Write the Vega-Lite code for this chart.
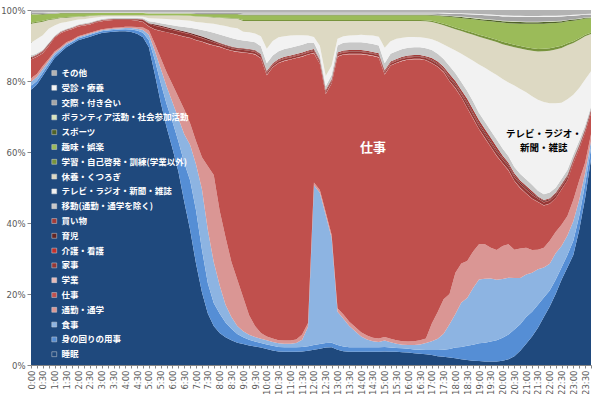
{
  "$schema": "https://vega.github.io/schema/vega-lite/v6.json",
  "autosize": {"type": "none"},
  "padding": {"left": 31, "top": 10, "right": 9, "bottom": 29},
  "width": 560,
  "height": 355,
  "background": "white",
  "config": {"view": {"stroke": null}, "font": "Noto Sans CJK JP"},
  "datasets": {
    "cats": [
      {"key": "s", "name": "睡眠", "ord": 1},
      {"key": "p", "name": "身の回りの用事", "ord": 2},
      {"key": "e", "name": "食事", "ord": 3},
      {"key": "c", "name": "通勤・通学", "ord": 4},
      {"key": "w", "name": "仕事", "ord": 5},
      {"key": "g", "name": "学業", "ord": 6},
      {"key": "h", "name": "家事", "ord": 7},
      {"key": "k", "name": "介護・看護", "ord": 8},
      {"key": "i", "name": "育児", "ord": 9},
      {"key": "b", "name": "買い物", "ord": 10},
      {"key": "m", "name": "移動(通勤・通学を除く)", "ord": 11},
      {"key": "t", "name": "テレビ・ラジオ・新聞・雑誌", "ord": 12},
      {"key": "r", "name": "休養・くつろぎ", "ord": 13},
      {"key": "l", "name": "学習・自己啓発・訓練(学業以外)", "ord": 14},
      {"key": "f", "name": "趣味・娯楽", "ord": 15},
      {"key": "x", "name": "スポーツ", "ord": 16},
      {"key": "v", "name": "ボランティア活動・社会参加活動", "ord": 17},
      {"key": "a", "name": "交際・付き合い", "ord": 18},
      {"key": "j", "name": "受診・療養", "ord": 19},
      {"key": "o", "name": "その他", "ord": 20}
    ],
    "rows": [
      {"time":"00:00","s":77.5,"p":1.1,"e":1.2,"c":1,"w":5.25,"g":0.05,"h":0.3,"k":0.1,"i":0.1,"b":0.1,"m":0.4,"t":3.7,"r":5.3,"l":0.3,"f":2.3,"x":0.1,"v":0.1,"a":0.3,"j":0.1,"o":0.7},
      {"time":"00:15","s":79,"p":1,"e":1.1,"c":0.9,"w":4.85,"g":0.05,"h":0.3,"k":0.1,"i":0.1,"b":0.1,"m":0.35,"t":3.95,"r":4.6,"l":0.3,"f":2,"x":0.1,"v":0.1,"a":0.3,"j":0.1,"o":0.7},
      {"time":"00:30","s":81.5,"p":0.9,"e":1,"c":0.8,"w":3.65,"g":0.05,"h":0.3,"k":0.1,"i":0.1,"b":0.1,"m":0.3,"t":4.1,"r":3.8,"l":0.25,"f":1.8,"x":0.1,"v":0.05,"a":0.3,"j":0.1,"o":0.7},
      {"time":"00:45","s":84,"p":0.8,"e":0.8,"c":0.6,"w":3.65,"g":0.05,"h":0.3,"k":0.1,"i":0.1,"b":0.1,"m":0.25,"t":3.95,"r":2.5,"l":0.2,"f":1.5,"x":0.05,"v":0.05,"a":0.25,"j":0.1,"o":0.65},
      {"time":"01:00","s":86.5,"p":0.7,"e":0.6,"c":0.5,"w":3.85,"g":0.05,"h":0.15,"k":0.05,"i":0.05,"b":0.05,"m":0.25,"t":2.85,"r":1.8,"l":0.2,"f":1.3,"x":0.05,"v":0.05,"a":0.25,"j":0.1,"o":0.65},
      {"time":"01:15","s":88,"p":0.6,"e":0.5,"c":0.4,"w":3.95,"g":0.05,"h":0.15,"k":0.05,"i":0.05,"b":0.05,"m":0.25,"t":2.3,"r":1.4,"l":0.15,"f":1.2,"x":0.05,"v":0.05,"a":0.2,"j":0.05,"o":0.55},
      {"time":"01:30","s":89.5,"p":0.6,"e":0.4,"c":0.4,"w":3.25,"g":0.05,"h":0.15,"k":0.05,"i":0.05,"b":0.05,"m":0.25,"t":1.9,"r":1.2,"l":0.15,"f":1.1,"x":0.05,"v":0.05,"a":0.2,"j":0.05,"o":0.55},
      {"time":"01:45","s":90.5,"p":0.5,"e":0.3,"c":0.3,"w":3.05,"g":0.05,"h":0.15,"k":0.05,"i":0.05,"b":0.05,"m":0.25,"t":1.7,"r":1,"l":0.15,"f":1,"x":0.05,"v":0.05,"a":0.2,"j":0.05,"o":0.55},
      {"time":"02:00","s":91.5,"p":0.5,"e":0.3,"c":0.3,"w":2.75,"g":0.05,"h":0.15,"k":0.05,"i":0.05,"b":0.05,"m":0.25,"t":1.35,"r":0.8,"l":0.1,"f":0.9,"x":0.05,"v":0.05,"a":0.2,"j":0.05,"o":0.55},
      {"time":"02:15","s":92,"p":0.5,"e":0.3,"c":0.3,"w":2.55,"g":0.05,"h":0.15,"k":0.05,"i":0.05,"b":0.05,"m":0.25,"t":1.15,"r":0.8,"l":0.1,"f":0.8,"x":0.05,"v":0.05,"a":0.2,"j":0.05,"o":0.55},
      {"time":"02:30","s":92.5,"p":0.5,"e":0.3,"c":0.3,"w":2.35,"g":0.05,"h":0.15,"k":0.05,"i":0.05,"b":0.05,"m":0.25,"t":1.15,"r":0.6,"l":0.1,"f":0.7,"x":0.05,"v":0.05,"a":0.2,"j":0.05,"o":0.55},
      {"time":"02:45","s":93,"p":0.5,"e":0.3,"c":0.3,"w":2.35,"g":0.05,"h":0.15,"k":0.05,"i":0.05,"b":0.05,"m":0.25,"t":0.85,"r":0.5,"l":0.08,"f":0.65,"x":0.04,"v":0.03,"a":0.2,"j":0.05,"o":0.55},
      {"time":"03:00","s":93.5,"p":0.5,"e":0.3,"c":0.3,"w":2.25,"g":0.05,"h":0.15,"k":0.05,"i":0.05,"b":0.05,"m":0.25,"t":0.65,"r":0.45,"l":0.05,"f":0.55,"x":0.03,"v":0.02,"a":0.2,"j":0.05,"o":0.55},
      {"time":"03:15","s":93.7,"p":0.5,"e":0.3,"c":0.3,"w":2.25,"g":0.05,"h":0.15,"k":0.05,"i":0.05,"b":0.05,"m":0.25,"t":0.5,"r":0.4,"l":0.05,"f":0.55,"x":0.03,"v":0.02,"a":0.2,"j":0.05,"o":0.55},
      {"time":"03:30","s":93.9,"p":0.5,"e":0.3,"c":0.3,"w":2.15,"g":0.05,"h":0.15,"k":0.05,"i":0.05,"b":0.05,"m":0.25,"t":0.4,"r":0.4,"l":0.05,"f":0.55,"x":0.03,"v":0.02,"a":0.2,"j":0.05,"o":0.55},
      {"time":"03:45","s":94,"p":0.5,"e":0.3,"c":0.3,"w":2.05,"g":0.05,"h":0.15,"k":0.05,"i":0.05,"b":0.05,"m":0.25,"t":0.4,"r":0.4,"l":0.05,"f":0.55,"x":0.03,"v":0.02,"a":0.2,"j":0.05,"o":0.55},
      {"time":"04:00","s":94,"p":0.6,"e":0.35,"c":0.3,"w":1.9,"g":0.05,"h":0.15,"k":0.05,"i":0.05,"b":0.05,"m":0.25,"t":0.4,"r":0.4,"l":0.05,"f":0.55,"x":0.03,"v":0.02,"a":0.2,"j":0.05,"o":0.55},
      {"time":"04:15","s":93.8,"p":0.7,"e":0.4,"c":0.35,"w":1.9,"g":0.05,"h":0.15,"k":0.05,"i":0.05,"b":0.05,"m":0.25,"t":0.4,"r":0.4,"l":0.05,"f":0.55,"x":0.03,"v":0.02,"a":0.2,"j":0.05,"o":0.55},
      {"time":"04:30","s":93.3,"p":0.9,"e":0.5,"c":0.5,"w":1.8,"g":0.05,"h":0.3,"k":0.05,"i":0.05,"b":0.05,"m":0.25,"t":0.4,"r":0.4,"l":0.05,"f":0.55,"x":0.03,"v":0.02,"a":0.2,"j":0.05,"o":0.55},
      {"time":"04:45","s":92.3,"p":1.3,"e":0.8,"c":0.7,"w":1.55,"g":0.05,"h":0.5,"k":0.05,"i":0.1,"b":0.05,"m":0.3,"t":0.4,"r":0.45,"l":0.05,"f":0.55,"x":0.03,"v":0.02,"a":0.2,"j":0.05,"o":0.55},
      {"time":"05:00","s":89.5,"p":2,"e":1.5,"c":1.2,"w":1.15,"g":0.05,"h":0.7,"k":0.05,"i":0.1,"b":0.05,"m":0.5,"t":0.85,"r":0.8,"l":0.05,"f":0.5,"x":0.03,"v":0.02,"a":0.25,"j":0.1,"o":0.6},
      {"time":"05:15","s":82,"p":4,"e":2.5,"c":2,"w":4,"g":0.05,"h":1,"k":0.1,"i":0.3,"b":0.05,"m":0.6,"t":1,"r":0.85,"l":0.05,"f":0.5,"x":0.03,"v":0.02,"a":0.25,"j":0.1,"o":0.6},
      {"time":"05:30","s":74,"p":5.5,"e":4,"c":3,"w":7.6,"g":0.05,"h":1,"k":0.1,"i":0.3,"b":0.05,"m":0.7,"t":1.25,"r":0.9,"l":0.05,"f":0.5,"x":0.03,"v":0.02,"a":0.25,"j":0.1,"o":0.6},
      {"time":"05:45","s":67,"p":6.5,"e":5,"c":4,"w":11.2,"g":0.05,"h":1,"k":0.1,"i":0.3,"b":0.05,"m":0.8,"t":1.45,"r":1,"l":0.05,"f":0.5,"x":0.03,"v":0.02,"a":0.25,"j":0.1,"o":0.6},
      {"time":"06:00","s":61,"p":7.5,"e":5.5,"c":5,"w":14.3,"g":0.05,"h":1,"k":0.1,"i":0.3,"b":0.05,"m":0.9,"t":1.65,"r":1.1,"l":0.05,"f":0.5,"x":0.03,"v":0.02,"a":0.25,"j":0.1,"o":0.6},
      {"time":"06:15","s":54.5,"p":8.5,"e":6.5,"c":6,"w":17.4,"g":0.05,"h":1,"k":0.1,"i":0.3,"b":0.05,"m":1,"t":1.85,"r":1.2,"l":0.05,"f":0.5,"x":0.03,"v":0.02,"a":0.25,"j":0.1,"o":0.6},
      {"time":"06:30","s":46,"p":11,"e":8,"c":7,"w":20.5,"g":0.05,"h":1,"k":0.1,"i":0.3,"b":0.05,"m":1.2,"t":1.9,"r":1.3,"l":0.05,"f":0.54,"x":0.03,"v":0.03,"a":0.25,"j":0.1,"o":0.6},
      {"time":"06:45","s":38,"p":14,"e":10,"c":6,"w":24.1,"g":0.05,"h":1,"k":0.1,"i":0.3,"b":0.05,"m":1.4,"t":1.95,"r":1.4,"l":0.06,"f":0.58,"x":0.03,"v":0.03,"a":0.25,"j":0.1,"o":0.6},
      {"time":"07:00","s":28.5,"p":15,"e":13,"c":6.5,"w":28.45,"g":0.1,"h":1,"k":0.1,"i":0.4,"b":0.05,"m":1.6,"t":1.95,"r":1.5,"l":0.07,"f":0.62,"x":0.03,"v":0.03,"a":0.3,"j":0.1,"o":0.7},
      {"time":"07:15","s":20.5,"p":12,"e":17,"c":9,"w":32.55,"g":0.1,"h":0.9,"k":0.1,"i":0.4,"b":0.05,"m":1.8,"t":2.1,"r":1.6,"l":0.08,"f":0.65,"x":0.04,"v":0.03,"a":0.3,"j":0.1,"o":0.7},
      {"time":"07:30","s":14.5,"p":8.5,"e":15,"c":18,"w":34.45,"g":0.1,"h":0.9,"k":0.1,"i":0.4,"b":0.05,"m":2,"t":2.3,"r":1.7,"l":0.09,"f":0.73,"x":0.04,"v":0.04,"a":0.3,"j":0.1,"o":0.7},
      {"time":"07:45","s":11,"p":6.5,"e":11.5,"c":24.5,"w":36.5,"g":0.1,"h":0.8,"k":0.1,"i":0.3,"b":0.1,"m":2.2,"t":2.5,"r":1.8,"l":0.1,"f":0.8,"x":0.05,"v":0.05,"a":0.3,"j":0.1,"o":0.7},
      {"time":"08:00","s":9,"p":5.5,"e":8,"c":21,"w":46.1,"g":0.1,"h":0.6,"k":0.1,"i":0.2,"b":0.2,"m":2.3,"t":2.7,"r":2,"l":0.11,"f":0.89,"x":0.05,"v":0.05,"a":0.3,"j":0.1,"o":0.7},
      {"time":"08:15","s":7.8,"p":4.2,"e":5,"c":19,"w":53,"g":0.1,"h":0.6,"k":0.1,"i":0.2,"b":0.2,"m":2.4,"t":2.9,"r":2.2,"l":0.12,"f":0.98,"x":0.05,"v":0.05,"a":0.3,"j":0.1,"o":0.7},
      {"time":"08:30","s":7,"p":3.2,"e":3.3,"c":15.5,"w":59.5,"g":0.1,"h":0.6,"k":0.1,"i":0.2,"b":0.2,"m":2.4,"t":3,"r":2.5,"l":0.13,"f":1.07,"x":0.05,"v":0.05,"a":0.3,"j":0.1,"o":0.7},
      {"time":"08:45","s":6.3,"p":2.4,"e":2.3,"c":13,"w":64.2,"g":0.1,"h":0.6,"k":0.1,"i":0.2,"b":0.2,"m":2.3,"t":3.15,"r":2.7,"l":0.14,"f":1.1,"x":0.06,"v":0.05,"a":0.3,"j":0.1,"o":0.7},
      {"time":"09:00","s":5.9,"p":1.9,"e":1.7,"c":9.5,"w":69,"g":0.1,"h":0.6,"k":0.1,"i":0.2,"b":0.2,"m":2.2,"t":2.5,"r":3,"l":0.3,"f":1.3,"x":0.1,"v":0.1,"a":0.35,"j":0.15,"o":0.8},
      {"time":"09:15","s":5.5,"p":1.6,"e":1.4,"c":5.5,"w":73.8,"g":0.1,"h":0.6,"k":0.1,"i":0.2,"b":0.2,"m":2.2,"t":2.5,"r":3.2,"l":0.3,"f":1.3,"x":0.1,"v":0.1,"a":0.35,"j":0.15,"o":0.8},
      {"time":"09:30","s":5.2,"p":1.4,"e":1.3,"c":3.1,"w":76.5,"g":0.1,"h":0.6,"k":0.1,"i":0.2,"b":0.2,"m":2.2,"t":2.5,"r":3.5,"l":0.3,"f":1.3,"x":0.1,"v":0.1,"a":0.35,"j":0.15,"o":0.8},
      {"time":"09:45","s":4.9,"p":1.3,"e":1.2,"c":1.6,"w":77.4,"g":0.1,"h":0.6,"k":0.1,"i":0.2,"b":0.2,"m":2.2,"t":2.8,"r":4.3,"l":0.3,"f":1.3,"x":0.1,"v":0.1,"a":0.35,"j":0.15,"o":0.8},
      {"time":"10:00","s":4.5,"p":1.3,"e":1.2,"c":1,"w":73.65,"g":0.1,"h":0.5,"k":0.1,"i":0.15,"b":0.3,"m":2.2,"t":4.1,"r":7.8,"l":0.3,"f":1.3,"x":0.1,"v":0.1,"a":0.35,"j":0.15,"o":0.8},
      {"time":"10:15","s":4.1,"p":1.3,"e":1.1,"c":1,"w":76.35,"g":0.1,"h":0.5,"k":0.1,"i":0.15,"b":0.3,"m":2.2,"t":4.1,"r":5.6,"l":0.3,"f":1.3,"x":0.1,"v":0.1,"a":0.35,"j":0.15,"o":0.8},
      {"time":"10:30","s":3.8,"p":1.3,"e":1,"c":0.9,"w":78.05,"g":0.1,"h":0.5,"k":0.1,"i":0.15,"b":0.3,"m":2.2,"t":3.9,"r":4.6,"l":0.3,"f":1.3,"x":0.1,"v":0.1,"a":0.35,"j":0.15,"o":0.8},
      {"time":"10:45","s":3.7,"p":1.3,"e":1,"c":0.9,"w":78.75,"g":0.1,"h":0.5,"k":0.1,"i":0.15,"b":0.3,"m":2.2,"t":3.6,"r":4.3,"l":0.3,"f":1.3,"x":0.1,"v":0.1,"a":0.35,"j":0.15,"o":0.8},
      {"time":"11:00","s":3.7,"p":1.3,"e":1,"c":0.9,"w":79.15,"g":0.1,"h":0.5,"k":0.1,"i":0.15,"b":0.3,"m":2.2,"t":3.4,"r":4.1,"l":0.3,"f":1.3,"x":0.1,"v":0.1,"a":0.35,"j":0.15,"o":0.8},
      {"time":"11:15","s":3.7,"p":1.3,"e":1.2,"c":1,"w":79.25,"g":0.1,"h":0.5,"k":0.1,"i":0.15,"b":0.3,"m":2.2,"t":3.1,"r":4,"l":0.3,"f":1.3,"x":0.1,"v":0.1,"a":0.35,"j":0.15,"o":0.8},
      {"time":"11:30","s":3.8,"p":1.3,"e":2,"c":1.5,"w":78.25,"g":0.1,"h":0.5,"k":0.1,"i":0.15,"b":0.3,"m":2.2,"t":2.7,"r":4,"l":0.3,"f":1.3,"x":0.1,"v":0.1,"a":0.35,"j":0.15,"o":0.8},
      {"time":"11:45","s":4,"p":1.3,"e":5.5,"c":1,"w":75.65,"g":0.1,"h":0.5,"k":0.1,"i":0.15,"b":0.3,"m":2.2,"t":2,"r":4.1,"l":0.3,"f":1.3,"x":0.1,"v":0.1,"a":0.35,"j":0.15,"o":0.8},
      {"time":"12:00","s":4.3,"p":1.3,"e":45,"c":0.8,"w":36.45,"g":0.1,"h":0.5,"k":0.1,"i":0.15,"b":0.3,"m":1.8,"t":1.6,"r":4.5,"l":0.3,"f":1.3,"x":0.1,"v":0.1,"a":0.35,"j":0.15,"o":0.8},
      {"time":"12:15","s":4.6,"p":1.3,"e":42.6,"c":0.8,"w":35.55,"g":0.1,"h":0.5,"k":0.1,"i":0.15,"b":0.3,"m":1.3,"t":2.6,"r":7,"l":0.3,"f":1.3,"x":0.1,"v":0.1,"a":0.35,"j":0.15,"o":0.8},
      {"time":"12:30","s":4.9,"p":1.3,"e":36,"c":0.8,"w":33.35,"g":0.1,"h":0.5,"k":0.1,"i":0.15,"b":0.3,"m":1,"t":2.9,"r":15.5,"l":0.3,"f":1.3,"x":0.1,"v":0.1,"a":0.35,"j":0.15,"o":0.8},
      {"time":"12:45","s":5,"p":1.3,"e":29.5,"c":0.8,"w":42.75,"g":0.1,"h":0.5,"k":0.1,"i":0.15,"b":0.3,"m":1.2,"t":2.7,"r":12.5,"l":0.3,"f":1.3,"x":0.1,"v":0.1,"a":0.35,"j":0.15,"o":0.8},
      {"time":"13:00","s":4.3,"p":1.3,"e":9.4,"c":1,"w":70.85,"g":0.1,"h":0.5,"k":0.1,"i":0.15,"b":0.3,"m":2,"t":1.9,"r":5,"l":0.3,"f":1.3,"x":0.1,"v":0.1,"a":0.35,"j":0.15,"o":0.8},
      {"time":"13:15","s":3.9,"p":1.3,"e":7.8,"c":1.2,"w":73.25,"g":0.1,"h":0.5,"k":0.1,"i":0.15,"b":0.3,"m":2.2,"t":1.8,"r":4.3,"l":0.3,"f":1.3,"x":0.1,"v":0.1,"a":0.35,"j":0.15,"o":0.8},
      {"time":"13:30","s":3.7,"p":1.3,"e":6,"c":1.2,"w":75.35,"g":0.1,"h":0.5,"k":0.1,"i":0.15,"b":0.3,"m":2.2,"t":1.9,"r":4.1,"l":0.3,"f":1.3,"x":0.1,"v":0.1,"a":0.35,"j":0.15,"o":0.8},
      {"time":"13:45","s":3.7,"p":1.3,"e":4.5,"c":1.2,"w":76.85,"g":0.1,"h":0.5,"k":0.1,"i":0.15,"b":0.3,"m":2.2,"t":2,"r":4,"l":0.3,"f":1.3,"x":0.1,"v":0.1,"a":0.35,"j":0.15,"o":0.8},
      {"time":"14:00","s":3.7,"p":1.3,"e":3,"c":1.2,"w":78.35,"g":0.1,"h":0.5,"k":0.1,"i":0.15,"b":0.3,"m":2.2,"t":2.1,"r":3.9,"l":0.3,"f":1.3,"x":0.1,"v":0.1,"a":0.35,"j":0.15,"o":0.8},
      {"time":"14:15","s":3.7,"p":1.3,"e":2.2,"c":1.1,"w":79.05,"g":0.1,"h":0.5,"k":0.1,"i":0.15,"b":0.3,"m":2.2,"t":2.2,"r":4,"l":0.3,"f":1.3,"x":0.1,"v":0.1,"a":0.35,"j":0.15,"o":0.8},
      {"time":"14:30","s":3.7,"p":1.3,"e":1.7,"c":1,"w":79.35,"g":0.1,"h":0.5,"k":0.1,"i":0.15,"b":0.3,"m":2.2,"t":2.4,"r":4.1,"l":0.3,"f":1.3,"x":0.1,"v":0.1,"a":0.35,"j":0.15,"o":0.8},
      {"time":"14:45","s":3.7,"p":1.3,"e":1.5,"c":1,"w":79.15,"g":0.1,"h":0.5,"k":0.1,"i":0.15,"b":0.3,"m":2.2,"t":2.5,"r":4.4,"l":0.3,"f":1.3,"x":0.1,"v":0.1,"a":0.35,"j":0.15,"o":0.8},
      {"time":"15:00","s":3.8,"p":1.3,"e":1.8,"c":1,"w":73.95,"g":0.1,"h":0.5,"k":0.1,"i":0.15,"b":0.3,"m":2,"t":4.4,"r":7.5,"l":0.3,"f":1.3,"x":0.1,"v":0.1,"a":0.35,"j":0.15,"o":0.8},
      {"time":"15:15","s":3.7,"p":1.2,"e":1.5,"c":1,"w":76.95,"g":0.1,"h":0.5,"k":0.1,"i":0.15,"b":0.3,"m":2.2,"t":3.5,"r":5.7,"l":0.3,"f":1.3,"x":0.1,"v":0.1,"a":0.35,"j":0.15,"o":0.8},
      {"time":"15:30","s":3.7,"p":1.1,"e":1.2,"c":1,"w":78.05,"g":0.1,"h":0.5,"k":0.1,"i":0.15,"b":0.3,"m":2.2,"t":3.5,"r":5,"l":0.3,"f":1.3,"x":0.1,"v":0.1,"a":0.35,"j":0.15,"o":0.8},
      {"time":"15:45","s":3.6,"p":1.1,"e":1,"c":1,"w":78.95,"g":0.1,"h":0.5,"k":0.1,"i":0.15,"b":0.3,"m":2.2,"t":3.2,"r":4.7,"l":0.3,"f":1.3,"x":0.1,"v":0.1,"a":0.35,"j":0.15,"o":0.8},
      {"time":"16:00","s":3.5,"p":1.1,"e":1,"c":1,"w":79.45,"g":0.1,"h":0.5,"k":0.1,"i":0.15,"b":0.3,"m":2.2,"t":3,"r":4.5,"l":0.3,"f":1.3,"x":0.1,"v":0.1,"a":0.35,"j":0.15,"o":0.8},
      {"time":"16:15","s":3.3,"p":1.1,"e":1.2,"c":1.1,"w":79.45,"g":0.1,"h":0.5,"k":0.1,"i":0.15,"b":0.3,"m":2.2,"t":2.9,"r":4.5,"l":0.3,"f":1.3,"x":0.1,"v":0.1,"a":0.35,"j":0.15,"o":0.8},
      {"time":"16:30","s":3.2,"p":1.1,"e":1.5,"c":1.2,"w":79.15,"g":0.1,"h":0.5,"k":0.1,"i":0.15,"b":0.3,"m":2.2,"t":2.8,"r":4.6,"l":0.3,"f":1.3,"x":0.1,"v":0.1,"a":0.35,"j":0.15,"o":0.8},
      {"time":"16:45","s":3,"p":1.2,"e":2,"c":1.3,"w":78.35,"g":0.1,"h":0.5,"k":0.1,"i":0.15,"b":0.3,"m":2.2,"t":2.9,"r":4.7,"l":0.3,"f":1.4,"x":0.1,"v":0.1,"a":0.35,"j":0.15,"o":0.8},
      {"time":"17:00","s":2.8,"p":1.4,"e":2.5,"c":5,"w":73.3,"g":0.1,"h":0.6,"k":0.1,"i":0.2,"b":0.5,"m":2.2,"t":3.05,"r":4.9,"l":0.3,"f":1.5,"x":0.15,"v":0.1,"a":0.4,"j":0.15,"o":0.75},
      {"time":"17:15","s":2.5,"p":1.7,"e":3.2,"c":7.5,"w":69.1,"g":0.1,"h":0.6,"k":0.1,"i":0.2,"b":0.5,"m":2.2,"t":3.4,"r":5.1,"l":0.35,"f":1.8,"x":0.15,"v":0.1,"a":0.45,"j":0.15,"o":0.8},
      {"time":"17:30","s":2.3,"p":2,"e":4.5,"c":9.7,"w":64,"g":0.1,"h":0.6,"k":0.1,"i":0.2,"b":0.5,"m":2.2,"t":4.1,"r":5.4,"l":0.4,"f":2.1,"x":0.2,"v":0.1,"a":0.5,"j":0.2,"o":0.8},
      {"time":"17:45","s":2.1,"p":2.4,"e":7,"c":8.5,"w":59.9,"g":0.1,"h":0.8,"k":0.1,"i":0.3,"b":0.8,"m":2.2,"t":5.25,"r":5.7,"l":0.45,"f":2.5,"x":0.2,"v":0.1,"a":0.55,"j":0.2,"o":0.85},
      {"time":"18:00","s":1.9,"p":3,"e":9.5,"c":11.6,"w":51.9,"g":0.1,"h":0.8,"k":0.1,"i":0.3,"b":0.8,"m":2.2,"t":6.4,"r":6,"l":0.5,"f":2.8,"x":0.25,"v":0.15,"a":0.6,"j":0.2,"o":0.9},
      {"time":"18:15","s":1.6,"p":3.5,"e":12.5,"c":11,"w":46.8,"g":0.1,"h":0.8,"k":0.1,"i":0.3,"b":0.8,"m":2.2,"t":7.95,"r":6.4,"l":0.5,"f":3.2,"x":0.25,"v":0.15,"a":0.7,"j":0.2,"o":0.95},
      {"time":"18:30","s":1.4,"p":4,"e":13.5,"c":10.4,"w":43.1,"g":0.1,"h":1,"k":0.1,"i":0.4,"b":1,"m":2.2,"t":9.5,"r":6.8,"l":0.55,"f":3.5,"x":0.3,"v":0.15,"a":0.8,"j":0.2,"o":1},
      {"time":"18:45","s":1.2,"p":4.5,"e":16,"c":10.3,"w":37.4,"g":0.1,"h":1,"k":0.1,"i":0.4,"b":1,"m":2.2,"t":11.5,"r":7.3,"l":0.6,"f":3.8,"x":0.3,"v":0.15,"a":0.9,"j":0.2,"o":1.05},
      {"time":"19:00","s":1.1,"p":5,"e":18,"c":9.9,"w":32.4,"g":0.1,"h":1,"k":0.1,"i":0.4,"b":1,"m":2,"t":13.65,"r":7.8,"l":0.6,"f":4.1,"x":0.35,"v":0.15,"a":1,"j":0.25,"o":1.1},
      {"time":"19:15","s":1,"p":5.3,"e":18,"c":9.7,"w":29.9,"g":0.1,"h":1,"k":0.1,"i":0.4,"b":1,"m":2,"t":15.2,"r":8.3,"l":0.6,"f":4.4,"x":0.35,"v":0.15,"a":1.05,"j":0.25,"o":1.2},
      {"time":"19:30","s":1,"p":5.6,"e":17.8,"c":8.6,"w":28.4,"g":0.1,"h":1,"k":0.1,"i":0.4,"b":1,"m":2,"t":16.65,"r":8.8,"l":0.65,"f":4.7,"x":0.4,"v":0.15,"a":1.1,"j":0.25,"o":1.3},
      {"time":"19:45","s":1,"p":6,"e":17,"c":8.4,"w":26.5,"g":0.1,"h":1,"k":0.1,"i":0.4,"b":1,"m":2,"t":18.2,"r":9.3,"l":0.65,"f":5,"x":0.4,"v":0.15,"a":1.15,"j":0.25,"o":1.4},
      {"time":"20:00","s":1.2,"p":6.5,"e":16.5,"c":9.3,"w":23.3,"g":0.1,"h":1,"k":0.1,"i":0.4,"b":0.6,"m":2,"t":19.55,"r":9.8,"l":0.7,"f":5.4,"x":0.4,"v":0.15,"a":1.2,"j":0.3,"o":1.5},
      {"time":"20:15","s":1.6,"p":7,"e":16,"c":9.4,"w":20.8,"g":0.1,"h":1,"k":0.1,"i":0.4,"b":0.6,"m":1.8,"t":20.8,"r":10.3,"l":0.7,"f":5.7,"x":0.45,"v":0.15,"a":1.25,"j":0.3,"o":1.55},
      {"time":"20:30","s":2.5,"p":7.5,"e":14.5,"c":8,"w":19.3,"g":0.1,"h":1,"k":0.1,"i":0.4,"b":0.6,"m":1.8,"t":22.9,"r":10.8,"l":0.7,"f":6,"x":0.45,"v":0.15,"a":1.3,"j":0.3,"o":1.6},
      {"time":"20:45","s":4,"p":7.5,"e":13,"c":8.3,"w":17,"g":0.1,"h":1,"k":0.1,"i":0.4,"b":0.6,"m":1.8,"t":23.95,"r":11.4,"l":0.7,"f":6.3,"x":0.45,"v":0.15,"a":1.3,"j":0.3,"o":1.65},
      {"time":"21:00","s":6,"p":7.5,"e":12,"c":7.5,"w":15.3,"g":0.1,"h":1,"k":0.1,"i":0.4,"b":0.6,"m":1.8,"t":24.5,"r":12,"l":0.7,"f":6.6,"x":0.45,"v":0.15,"a":1.3,"j":0.3,"o":1.7},
      {"time":"21:15","s":8,"p":7,"e":11,"c":6.4,"w":14.4,"g":0.1,"h":1,"k":0.1,"i":0.4,"b":0.6,"m":1.8,"t":24.9,"r":12.8,"l":0.7,"f":6.9,"x":0.45,"v":0.15,"a":1.3,"j":0.3,"o":1.7},
      {"time":"21:30","s":10.5,"p":6.5,"e":10,"c":5.5,"w":13.45,"g":0.05,"h":0.8,"k":0.1,"i":0.3,"b":0.3,"m":1.6,"t":25.6,"r":13.6,"l":0.7,"f":7.1,"x":0.45,"v":0.15,"a":1.3,"j":0.3,"o":1.7},
      {"time":"21:45","s":13.5,"p":5.5,"e":8.5,"c":5.5,"w":11.95,"g":0.05,"h":0.8,"k":0.1,"i":0.3,"b":0.3,"m":1.6,"t":25.95,"r":14.3,"l":0.7,"f":7.1,"x":0.45,"v":0.15,"a":1.3,"j":0.3,"o":1.65},
      {"time":"22:00","s":16.5,"p":4.5,"e":7.5,"c":6.5,"w":10.45,"g":0.05,"h":0.8,"k":0.1,"i":0.3,"b":0.3,"m":1.6,"t":25.15,"r":14.8,"l":0.7,"f":7,"x":0.4,"v":0.15,"a":1.25,"j":0.3,"o":1.65},
      {"time":"22:15","s":20,"p":4,"e":7.5,"c":6,"w":9.45,"g":0.05,"h":0.8,"k":0.1,"i":0.3,"b":0.3,"m":1.4,"t":23.8,"r":15.2,"l":0.65,"f":6.8,"x":0.4,"v":0.15,"a":1.2,"j":0.3,"o":1.6},
      {"time":"22:30","s":24,"p":3.5,"e":6,"c":6,"w":9.95,"g":0.05,"h":0.8,"k":0.1,"i":0.3,"b":0.3,"m":1.4,"t":21.5,"r":15.4,"l":0.6,"f":6.6,"x":0.35,"v":0.15,"a":1.15,"j":0.3,"o":1.55},
      {"time":"22:45","s":27.5,"p":3.5,"e":5.5,"c":5.5,"w":9.95,"g":0.05,"h":0.8,"k":0.1,"i":0.3,"b":0.3,"m":1.4,"t":19.95,"r":15.2,"l":0.55,"f":6.2,"x":0.3,"v":0.1,"a":1.1,"j":0.25,"o":1.45},
      {"time":"23:00","s":31,"p":4,"e":5.5,"c":6,"w":10.5,"g":0.05,"h":0.5,"k":0.1,"i":0.2,"b":0.15,"m":1.2,"t":16.9,"r":14.6,"l":0.5,"f":5.8,"x":0.3,"v":0.1,"a":1,"j":0.25,"o":1.35},
      {"time":"23:15","s":38,"p":4,"e":4.5,"c":5.5,"w":9,"g":0.05,"h":0.5,"k":0.1,"i":0.2,"b":0.15,"m":1.2,"t":14.8,"r":13.6,"l":0.45,"f":5.2,"x":0.25,"v":0.1,"a":0.9,"j":0.25,"o":1.25},
      {"time":"23:30","s":47,"p":4,"e":3,"c":3,"w":8.5,"g":0.05,"h":0.5,"k":0.1,"i":0.2,"b":0.15,"m":1,"t":12.9,"r":12.2,"l":0.4,"f":4.6,"x":0.2,"v":0.1,"a":0.8,"j":0.2,"o":1.1},
      {"time":"23:45","s":58,"p":3,"e":2,"c":2,"w":6,"g":0.05,"h":0.5,"k":0.1,"i":0.2,"b":0.15,"m":0.8,"t":9.95,"r":10.5,"l":0.35,"f":4.1,"x":0.2,"v":0.1,"a":0.75,"j":0.2,"o":1.05}
    ]
  },
  "layer": [
    {
      "data": {"name": "rows"},
      "transform": [
        {"fold": ["s","p","e","c","w","g","h","k","i","b","m","t","r","l","f","x","v","a","j","o"], "as": ["key", "val"]},
        {"lookup": "key", "from": {"data": {"name": "cats"}, "key": "key", "fields": ["name", "ord"]}}
      ],
      "mark": {"type": "area", "interpolate": "linear"},
      "encoding": {
        "x": {
          "field": "time", "type": "ordinal",
          "scale": {"type": "point", "padding": 0},
          "axis": {
            "title": null, "labelAngle": 270, "labelFontSize": 8.5, "labelColor": "#595959",
            "labelFont": "DejaVu Sans",
            "domainColor": "#868686", "tickColor": "#868686", "tickSize": 3, "labelPadding": 2,
            "labelOverlap": false, "labelBound": false, "labelFlush": false,
            "labelExpr": "(indexof(datum.label, ':15') >= 0 || indexof(datum.label, ':45') >= 0) ? '' : (datum.label[0] == '0' ? substring(datum.label, 1) : datum.label)"
          }
        },
        "y": {
          "field": "val", "type": "quantitative", "stack": "normalize",
          "scale": {"domain": [0, 1]},
          "axis": {
            "title": null, "format": ".0%", "values": [0,0.1,0.2,0.3,0.4,0.5,0.6,0.7,0.8,0.9,1],
            "grid": false, "labelFontSize": 8.5, "labelColor": "#595959", "labelFont": "DejaVu Sans",
            "domainColor": "#868686", "tickColor": "#868686", "tickSize": 4, "labelPadding": 2
          }
        },
        "color": {
          "field": "name", "type": "nominal",
          "scale": {
            "domain": ["その他","受診・療養","交際・付き合い","ボランティア活動・社会参加活動","スポーツ","趣味・娯楽","学習・自己啓発・訓練(学業以外)","休養・くつろぎ","テレビ・ラジオ・新聞・雑誌","移動(通勤・通学を除く)","買い物","育児","介護・看護","家事","学業","仕事","通勤・通学","食事","身の回りの用事","睡眠"],
            "range": ["#B3B3B3","#F4F4F4","#A6A6A6","#D7E4BD","#4F6228","#9BBB59","#77933C","#DDD9C3","#F2F2F2","#C8C8C8","#A33B38","#632523","#C4302B","#953735","#E6B9B8","#C0504D","#DA9694","#8DB4E2","#558ED5","#1F497D"]
          },
          "legend": {
            "orient": "none", "legendX": 19, "legendY": 58, "title": null,
            "labelColor": "#FFFFFF", "labelFontSize": 8.5, "labelFontWeight": "bold", "labelFont": "Noto Sans CJK JP",
            "symbolType": "square", "symbolSize": 24, "symbolStrokeColor": "#D9D9D9", "symbolStrokeWidth": 0.5,
            "rowPadding": 4.8, "labelOffset": 3, "clipHeight": 10, "symbolOpacity": 1
          }
        },
        "order": {"field": "ord", "type": "quantitative"}
      }
    },
    {
      "data": {"values": [{"time": "14:30", "y": 0.611, "label": "仕事"}]},
      "mark": {"type": "text", "color": "white", "fontWeight": "bold", "fontSize": 13, "font": "Noto Sans CJK JP", "align": "center", "baseline": "middle"},
      "encoding": {
        "x": {"field": "time", "type": "ordinal"},
        "y": {"field": "y", "type": "quantitative"},
        "text": {"field": "label"}
      }
    },
    {
      "data": {"values": [{"time": "21:45", "y": 0.65, "label": "テレビ・ラジオ・\n新聞・雑誌"}]},
      "mark": {"type": "text", "color": "black", "fontWeight": "bold", "fontSize": 9.5, "font": "Noto Sans CJK JP", "align": "center", "baseline": "middle", "lineBreak": "\n", "lineHeight": 14},
      "encoding": {
        "x": {"field": "time", "type": "ordinal"},
        "y": {"field": "y", "type": "quantitative"},
        "text": {"field": "label"}
      }
    }
  ]
}
